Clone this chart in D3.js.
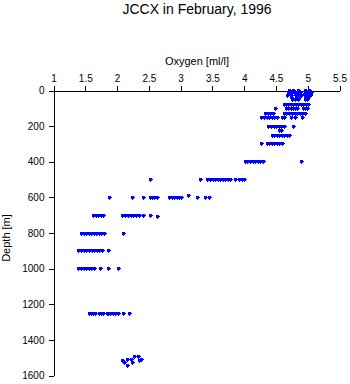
<!DOCTYPE html>
<html><head><meta charset="utf-8">
<script src="https://cdn.jsdelivr.net/npm/d3@7"></script>
<style>
body{margin:0;background:#fff}
svg{display:block}
text{font-family:"Liberation Sans",Arial,Helvetica,sans-serif;fill:#000}
</style>
</head><body><svg id="c" width="350" height="384"></svg>
<script>
const title = "JCCX in February, 1996";
const xLabel = "Oxygen [ml/l]";
const yLabel = "Depth [m]";
const xTicks = [1,1.5,2,2.5,3,3.5,4,4.5,5,5.5];
const yTicks = [0,200,400,600,800,1000,1200,1400,1600];

// depth [m] and oxygen [ml/l] samples (paired)
const depth = [
  0,0,0,0,0,
  10,10,10,10,10,10,10,
  20,20,20,20,20,20,
  30,30,30,30,30,30,
  40,40,40,40,40,
  52,52,52,52,52,
  80,80,80,80,80,80,80,80,80,80,80,
  100,100,100,100,100,100,100,100,100,100,
  128,128,128,128,128,128,128,128,128,128,128,128,128,
  150,150,150,150,150,150,150,150,150,150,150,150,
  200,200,200,200,200,200,200,200,
  225,225,
  252,252,252,252,252,252,252,252,
  300,300,300,300,300,300,300,300,
  400,400,400,400,400,400,400,400,400,
  500,500,500,500,500,500,500,500,500,500,500,500,500,500,500,500,
  600,600,600,600,600,600,600,600,600,600,600,600,590,600,600,600,600,
  700,700,700,700,700,700,700,700,700,700,700,700,700,700,710,
  800,800,800,800,800,800,800,800,800,800,800,
  900,900,900,900,900,900,900,900,900,900,900,
  1000,1000,1000,1000,1000,1000,1000,1000,1000,1000,
  1250,1250,1250,1250,1250,1250,1250,1250,1250,1250,1250,1250,1250,1250,1250,
  1517,1528,1511,1545,1511,1528,1494,1494,1517,1511
];
const oxygen = [
  4.72,4.78,4.85,4.97,5.03,
  4.70,4.76,4.82,4.88,4.96,5.02,5.06,
  4.73,4.80,4.86,4.95,5.00,5.05,
  4.68,4.74,4.84,4.90,4.98,5.04,
  4.75,4.82,4.87,4.97,5.02,
  4.76,4.80,4.86,4.96,5.00,
  4.64,4.67,4.70,4.74,4.77,4.82,4.86,4.90,4.94,4.98,5.02,
  4.49,4.66,4.69,4.75,4.78,4.81,4.84,4.93,4.97,5.00,
  4.34,4.38,4.42,4.46,4.63,4.66,4.72,4.76,4.80,4.84,4.88,4.91,4.96,
  4.28,4.32,4.36,4.40,4.44,4.48,4.52,4.60,4.64,4.75,4.80,4.92,
  4.39,4.43,4.47,4.51,4.55,4.59,4.63,4.77,
  4.56,4.59,
  4.44,4.48,4.52,4.56,4.60,4.64,4.68,4.72,
  4.28,4.36,4.40,4.44,4.48,4.52,4.56,4.60,
  4.02,4.06,4.10,4.14,4.18,4.22,4.25,4.30,4.90,
  2.52,3.31,3.43,3.47,3.51,3.55,3.59,3.63,3.67,3.71,3.75,3.78,3.87,3.93,3.97,4.01,
  1.88,2.25,2.42,2.52,2.55,2.59,2.63,2.83,2.87,2.91,2.95,2.99,3.12,3.02,3.26,3.39,3.45,
  1.63,1.67,1.71,1.75,1.79,2.08,2.14,2.18,2.22,2.26,2.30,2.36,2.42,2.52,2.63,
  1.44,1.48,1.52,1.56,1.60,1.64,1.68,1.72,1.76,1.80,2.10,
  1.40,1.44,1.48,1.52,1.56,1.61,1.65,1.69,1.73,1.77,1.86,
  1.40,1.44,1.48,1.52,1.56,1.60,1.64,1.74,1.86,2.02,
  1.56,1.60,1.63,1.66,1.72,1.75,1.78,1.85,1.87,1.90,1.94,1.98,2.02,2.10,2.19,
  2.08,2.11,2.16,2.17,2.22,2.25,2.28,2.33,2.35,2.39
];

const svg = d3.select("#c");
const x = d3.scaleLinear().domain([1,5.5]).range([53,339]);
const y = d3.scaleLinear().domain([0,1600]).range([90,375]);

svg.append("text").attr("x",197).attr("y",14).attr("text-anchor","middle")
  .attr("font-size",14).text(title);
svg.append("text").attr("x",197).attr("y",65).attr("text-anchor","middle")
  .attr("font-size",11).text(xLabel);
svg.append("text").attr("transform","translate(10,238) rotate(-90)")
  .attr("text-anchor","middle").attr("font-size",11).text(yLabel);

const gx = svg.append("g").attr("transform","translate(0.5,90.5)")
  .call(d3.axisTop(x).tickValues(xTicks).tickSize(5).tickSizeOuter(0).tickPadding(4).tickFormat(d3.format("")));
const gy = svg.append("g").attr("transform","translate(53.5,0.5)")
  .call(d3.axisLeft(y).tickValues(yTicks).tickSize(5).tickSizeOuter(0).tickPadding(4).tickFormat(d3.format("d")));
[gx,gy].forEach(g=>{
  g.selectAll("text").attr("font-size",10).attr("font-family",'"Liberation Sans",Arial,sans-serif').attr("fill","#000");
  g.selectAll("line,path").attr("stroke","#000").attr("shape-rendering","crispEdges");
});

const marker = "M-1.5,-1.5h3v3h-3zM-2,-0.5h4v1h-4zM-0.5,-2h1v4h-1z";
svg.append("g").selectAll("path").data(d3.range(depth.length)).join("path")
  .attr("transform",i=>`translate(${Math.round(x(oxygen[i]))+0.5},${Math.round(y(depth[i]))+0.5})`)
  .attr("d",marker).attr("fill","#0000ff").attr("shape-rendering","crispEdges");
</script>
</body></html>
